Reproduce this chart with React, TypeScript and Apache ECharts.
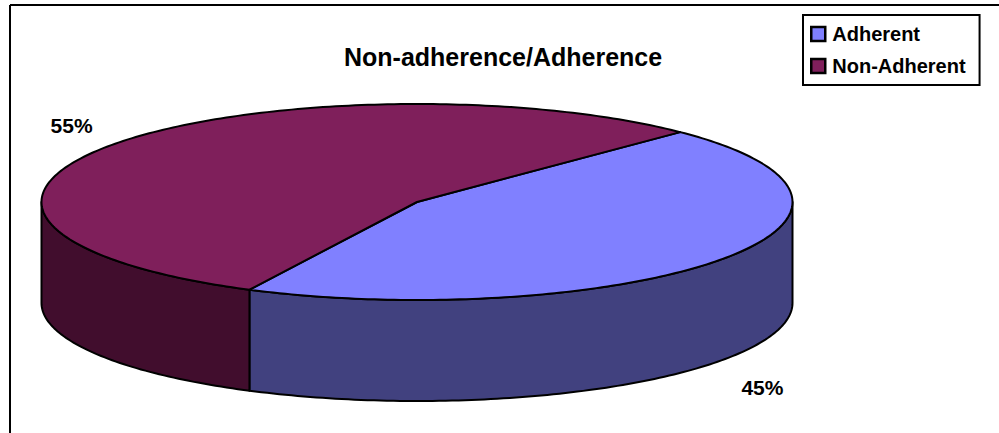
import React, { useEffect, useRef } from "react";
import * as echarts from "echarts";

// ---- data ----
const categories: string[] = ["Adherent", "Non-Adherent"];
const values: number[] = [45, 55];
const percentLabels: string[] = ["45%", "55%"];
const topColors: string[] = ["#8080FF", "#7F1F5B"];
const sideColors: string[] = ["#41417F", "#410D2D"];
const titleText = "Non-adherence/Adherence";

// ---- 3D pie geometry (layout) ----
const CX = 417;
const CY = 202;
const RX = 375.5;
const RY = 98;
const DEPTH = 101;
const START = -45.5;
const FONT = "'Liberation Sans', Arial, Helvetica, sans-serif";

function pt(tDeg: number, dy: number): number[] {
  const r = (tDeg * Math.PI) / 180;
  return [CX + RX * Math.cos(r), CY + RY * Math.sin(r) + dy];
}

function arc(a0: number, a1: number, dy: number): number[][] {
  const n = Math.max(2, Math.ceil(Math.abs(a1 - a0)));
  const pts: number[][] = [];
  for (let i = 0; i <= n; i++) pts.push(pt(a0 + ((a1 - a0) * i) / n, dy));
  return pts;
}

const renderItem = (params: any, api: any) => {
  const value = api.value(0);
  const before = api.value(1);
  const total = api.value(2);
  const si = params.seriesIndex;
  const a0 = START + (before / total) * 360;
  const a1 = START + ((before + value) / total) * 360;
  const children: any[] = [];
  // visible side walls (front half: 0..180 deg)
  for (const m of [-1, 0, 1]) {
    const s = Math.max(a0, 360 * m);
    const e = Math.min(a1, 360 * m + 180);
    if (e > s) {
      const points = arc(s, e, 0).concat(arc(e, s, DEPTH));
      children.push({
        type: "polygon",
        z2: 1,
        shape: { points },
        style: { fill: sideColors[si], stroke: "#000", lineWidth: 2, lineJoin: "round" },
      });
    }
  }
  // top face
  children.push({
    type: "polygon",
    z2: 10,
    shape: { points: [[CX, CY]].concat(arc(a0, a1, 0)) },
    style: { fill: topColors[si], stroke: "#000", lineWidth: 2, lineJoin: "round" },
  });
  // percentage label
  const mid = (a0 + a1) / 2;
  const r = (mid * Math.PI) / 180;
  const sn = Math.sin(r);
  const lx = CX + RX * 1.13 * Math.cos(r);
  const ly = CY + RY * 1.35 * sn + (sn > 0 ? DEPTH + 8 : 0);
  children.push({
    type: "text",
    z2: 20,
    x: lx,
    y: ly,
    style: {
      text: percentLabels[si],
      fontSize: 21,
      fontWeight: "bold",
      fontFamily: FONT,
      fill: "#000",
      align: "center",
      verticalAlign: "middle",
    },
  });
  return { type: "group", children };
};

export default function App() {
  const ref = useRef<HTMLDivElement>(null);
  useEffect(() => {
    if (!ref.current) return;
    const chart = echarts.init(ref.current, null, { renderer: "svg" });
    const total = values.reduce((a, b) => a + b, 0);
    const cum: number[] = [];
    let acc = 0;
    values.forEach((v) => {
      cum.push(acc);
      acc += v;
    });
    chart.setOption({
      animation: false,
      backgroundColor: "#ffffff",
      title: {
        text: titleText,
        left: 344,
        top: 44,
        padding: 0,
        textStyle: { fontSize: 25, fontWeight: "bold", fontFamily: FONT, color: "#000" },
      },
      legend: {
        orient: "vertical",
        left: 803,
        top: 15,
        padding: [9, 14, 9, 7],
        itemGap: 12,
        itemWidth: 14,
        itemHeight: 14,
        icon: "rect",
        borderColor: "#000",
        borderWidth: 2,
        borderRadius: 0,
        backgroundColor: "#fff",
        selectedMode: false,
        itemStyle: { borderColor: "#000", borderWidth: 2.5 },
        textStyle: { fontSize: 20, fontWeight: 700, fontFamily: FONT, color: "#000", padding: [0, 0, 0, 2] },
        data: categories.map((name) => ({
          name,
          textStyle: { fontWeight: 700, fontSize: 20, fontFamily: FONT, color: "#000" },
        })),
      },
      graphic: [
        { type: "line", silent: true, shape: { x1: 10, y1: 5, x2: 1100, y2: 5 }, style: { stroke: "#000", lineWidth: 2 } },
        { type: "line", silent: true, shape: { x1: 10, y1: 5, x2: 10, y2: 500 }, style: { stroke: "#000", lineWidth: 2 } },
      ],
      series: categories.map((name, i) => ({
        type: "custom",
        name,
        coordinateSystem: "none",
        silent: true,
        emphasis: { disabled: true },
        itemStyle: { color: topColors[i], borderColor: "#000", borderWidth: 2.5 },
        data: [[values[i], cum[i], total]],
        renderItem,
      })),
    });
    return () => chart.dispose();
  }, []);
  return (
    <div
      ref={ref}
      style={{ position: "fixed", left: 0, top: 0, width: 999, height: 433, background: "#fff" }}
    />
  );
}
